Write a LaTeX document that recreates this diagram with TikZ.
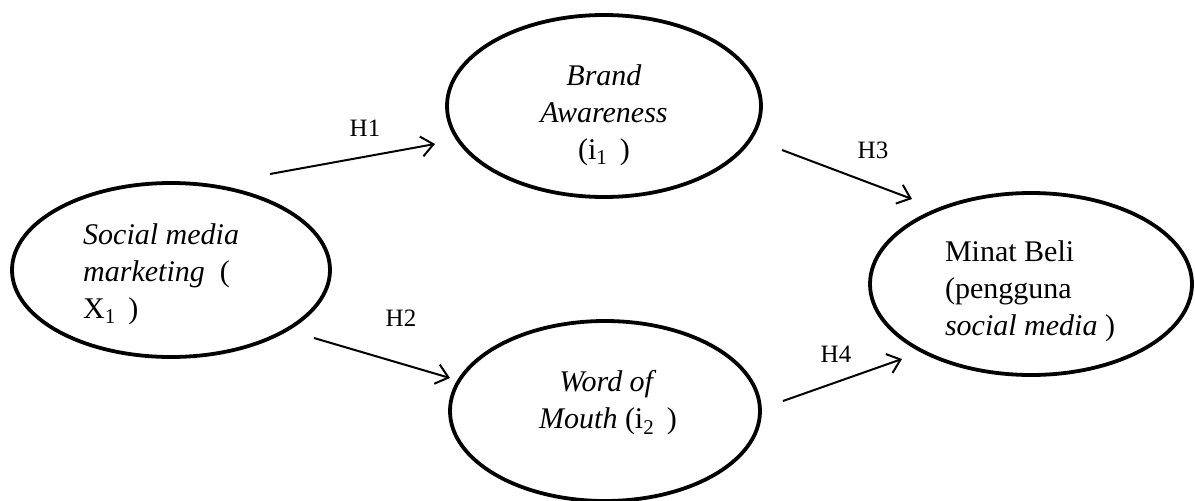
\documentclass[tikz,border=0pt]{standalone}
\usepackage{fontspec}
\setmainfont{Liberation Serif}[ItalicFont={Liberation Serif Italic},BoldFont={Liberation Serif Bold}]
\usetikzlibrary{arrows.meta,shapes.geometric}
\begin{document}
\begin{tikzpicture}[x=1pt,y=-1pt,
  var/.style={draw,ellipse,line width=3.8pt,inner sep=0pt},
  txt/.style={font=\fontsize{30}{37}\selectfont,inner sep=0pt},
  lbl/.style={font=\fontsize{25}{28}\selectfont},
  arr/.style={line width=2pt,-{Straight Barb[length=12pt,width=20pt,line width=2pt]}}]
\useasboundingbox (0,0) rectangle (1195,501);
\node[var,minimum width=318pt,minimum height=174pt] (soc) at (171,270) {};
\node[var,minimum width=314pt,minimum height=182pt] (bra) at (604,106) {};
\node[var,minimum width=310pt,minimum height=180pt] (wom) at (605,411) {};
\node[var,minimum width=322pt,minimum height=182pt] (min) at (1031,284) {};
\node[txt,align=left,anchor=west] (soct) at (83,274)
  {\textit{Social media}\\ \textit{marketing} \ (\\ X\textsubscript{1} \,)};
\node[txt,align=center] (brat) at (604,115)
  {\textit{Brand}\\ \textit{Awareness}\\ (i\textsubscript{1} \,)};
\node[txt,align=center] (womt) at (608,403)
  {\textit{Word of}\\ \textit{Mouth} (i\textsubscript{2} \,)};
\node[txt,align=left] (mint) at (1030,291)
  {Minat Beli\\ (pengguna\\ \textit{social media} )};
\coordinate (h1s) at (270,174); \coordinate (h1e) at (435,144);
\coordinate (h2s) at (314,338); \coordinate (h2e) at (450,378);
\coordinate (h3s) at (782,150); \coordinate (h3e) at (912,199);
\coordinate (h4s) at (783,401); \coordinate (h4e) at (902,359);
\draw[arr] (h1s) -- (h1e);
\draw[arr] (h2s) -- (h2e);
\draw[arr] (h3s) -- (h3e);
\draw[arr] (h4s) -- (h4e);
\node[lbl] (l1) at (365,128) {H1};
\node[lbl] (l2) at (401,318) {H2};
\node[lbl] (l3) at (873,150) {H3};
\node[lbl] (l4) at (836,354) {H4};
\end{tikzpicture}
\end{document}
